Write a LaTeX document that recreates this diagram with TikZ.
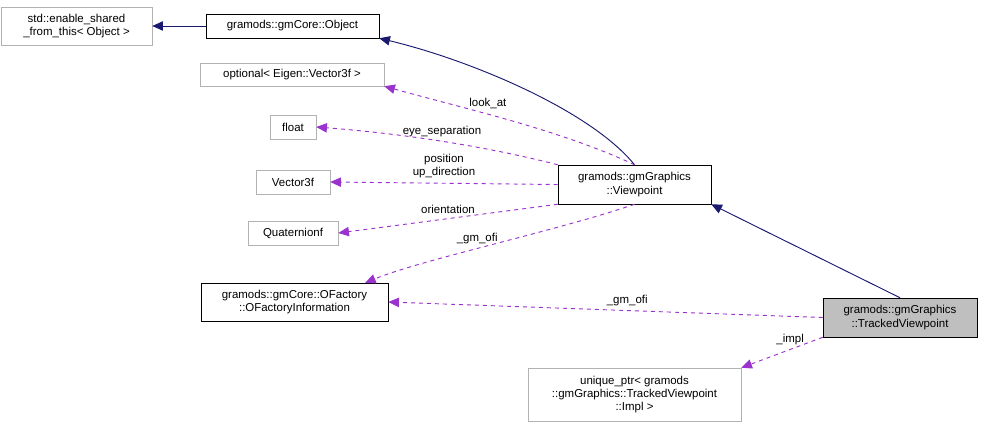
\documentclass[tikz,border=0pt]{standalone}
\usepackage{fontspec}
\setmainfont{Liberation Sans}
\usetikzlibrary{arrows.meta}
\definecolor{navyline}{HTML}{191970}
\definecolor{orchid}{HTML}{9A32CD}
\tikzset{
  cls/.style={draw, rectangle, inner sep=0pt, align=center, font=\fontsize{8.6}{10}\selectfont},
  ext/.style={cls, draw=gray!60},
  inh/.style={draw=navyline, -{Triangle[length=8pt,width=7pt]}, line width=0.7pt},
  usg/.style={draw=orchid, dashed, -{Triangle[length=8pt,width=7pt]}, line width=0.7pt},
  lbl/.style={font=\fontsize{8.6}{10}\selectfont, align=center}
}
\begin{document}
\begin{tikzpicture}[x=0.75pt,y=-0.75pt]
\useasboundingbox (0,0) rectangle (981,429);
\node[ext, minimum width=151*0.75pt, minimum height=38*0.75pt] (esft) at (76.5,26) {std::enable\_shared\\\_from\_this\textless{} Object \textgreater};
\node[cls, minimum width=173*0.75pt, minimum height=24*0.75pt] (obj) at (292.5,26) {gramods::gmCore::Object};
\node[ext, minimum width=184*0.75pt, minimum height=23*0.75pt] (opt) at (292,74.5) {optional\textless{} Eigen::Vector3f \textgreater};
\node[ext, minimum width=46*0.75pt, minimum height=24*0.75pt] (flt) at (293,127) {float};
\node[ext, minimum width=74*0.75pt, minimum height=24*0.75pt] (vec) at (293,182) {Vector3f};
\node[ext, minimum width=90*0.75pt, minimum height=24*0.75pt] (quat) at (293,233) {Quaternionf};
\node[cls, minimum width=187*0.75pt, minimum height=38*0.75pt] (ofi) at (294.5,302) {gramods::gmCore::OFactory\\::OFactoryInformation};
\node[ext, minimum width=213*0.75pt, minimum height=53*0.75pt] (uptr) at (634.5,394.5) {unique\_ptr\textless{} gramods\\::gmGraphics::TrackedViewpoint\\::Impl \textgreater};
\node[cls, minimum width=153*0.75pt, minimum height=39*0.75pt] (vp) at (634.5,184.5) {gramods::gmGraphics\\::Viewpoint};
\node[cls, fill=gray!50, minimum width=154*0.75pt, minimum height=39*0.75pt] (tvp) at (900,317.5) {gramods::gmGraphics\\::TrackedViewpoint};
\coordinate (ofitop) at (365,283);
% inheritance
\draw[inh] (obj) -- (esft);
\draw[inh] (vp.north) .. controls (590,110) and (470,60) .. (obj.south east);
\draw[inh] (tvp.north) -- (vp.south east);
% members
\draw[usg] (vp.north) .. controls (560,130) and (470,110) .. (opt.south east) node[lbl, pos=0.6, above] {look\_at};
\draw[usg] (vp.north west) .. controls (500,150) and (420,135) .. (flt.east) node[lbl, pos=0.55, above] {eye\_separation};
\draw[usg] (vp.west) -- (vec.east) node[lbl, midway, above] {position\\up\_direction};
\draw[usg] (vp.south west) -- (quat.east) node[lbl, midway, above] {orientation};
\draw[usg] (vp.south) .. controls (560,230) and (420,260) .. (ofitop) node[lbl, pos=0.55, above] {\_gm\_ofi};
\draw[usg] (tvp.west) -- (ofi.east) node[lbl, pos=0.45, above] {\_gm\_ofi};
\draw[usg] (tvp.south west) -- (uptr.north east) node[lbl, pos=0.4, above] {\_impl};
\end{tikzpicture}
\end{document}
